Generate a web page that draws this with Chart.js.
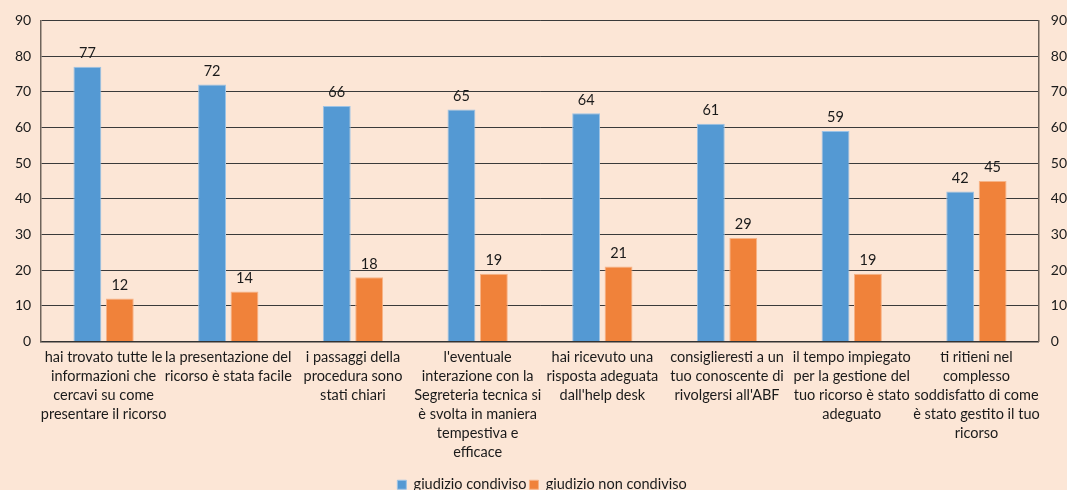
<!DOCTYPE html>
<html>
<head>
<meta charset="utf-8">
<script src="https://cdn.jsdelivr.net/npm/chart.js@4.4.0/dist/chart.umd.min.js"></script>
<style>
  html, body { margin: 0; padding: 0; background: #FCE6D6; overflow: hidden; }
  #wrap { width: 1079px; height: 502px; }
</style>
</head>
<body>
<div id="wrap"><canvas id="bar-chart"></canvas></div>
<script>
const categories = [
  ['hai trovato tutte le', 'informazioni che', 'cercavi su come', 'presentare il ricorso'],
  ['la presentazione del', 'ricorso è stata facile'],
  ['i passaggi della', 'procedura sono', 'stati chiari'],
  ["l'eventuale", 'interazione con la', 'Segreteria tecnica si', 'è svolta in maniera', 'tempestiva e', 'efficace'],
  ['hai ricevuto una', 'risposta adeguata', "dall'help desk"],
  ['consiglieresti a un', 'tuo conoscente di', "rivolgersi all'ABF"],
  ['il tempo impiegato', 'per la gestione del', 'tuo ricorso è stato', 'adeguato'],
  ['ti ritieni nel', 'complesso', 'soddisfatto di come', 'è stato gestito il tuo', 'ricorso']
];
const condiviso = [77, 72, 66, 65, 64, 61, 59, 42];
const nonCondiviso = [12, 14, 18, 19, 21, 29, 19, 45];
const yTicks = [0, 10, 20, 30, 40, 50, 60, 70, 80, 90];

const fontFamily = 'Lato, "Open Sans", sans-serif';
Chart.defaults.font.family = fontFamily;
Chart.defaults.font.size = 14;
Chart.defaults.color = '#1a1a1a';

// scrive il valore sopra ogni barra
const valueLabels = {
  id: 'valueLabels',
  afterDatasetsDraw(chart) {
    const ctx = chart.ctx;
    ctx.save();
    ctx.font = '14.5px ' + fontFamily;
    ctx.fillStyle = '#1a1a1a';
    ctx.textAlign = 'center';
    ctx.textBaseline = 'bottom';
    chart.data.datasets.forEach((ds, i) => {
      chart.getDatasetMeta(i).data.forEach((bar, j) => {
        ctx.fillText(ds.data[j], bar.x, bar.y - 6);
      });
    });
    ctx.restore();
  }
};

const data = {
  labels: categories,
  datasets: [
    {
      label: 'giudizio condiviso',
      data: condiviso,
      backgroundColor: '#5499D3',
      borderColor: '#9CC3E6',
      borderWidth: 1,
      categoryPercentage: 0.52,
      barPercentage: 0.86
    },
    {
      label: 'giudizio non condiviso',
      data: nonCondiviso,
      backgroundColor: '#F0823A',
      borderColor: '#F6B387',
      borderWidth: 1,
      categoryPercentage: 0.52,
      barPercentage: 0.86
    }
  ]
};

const axisColor = '#6f645b';

const options = {
  responsive: true,
  maintainAspectRatio: false,
  animation: false,
  layout: { padding: { left: 5, right: 0, top: 14, bottom: 0 } },
  plugins: {
    legend: {
      position: 'bottom',
      labels: {
        boxWidth: 9,
        boxHeight: 9,
        padding: 3,
        font: { size: 14.5 }
      }
    },
    tooltip: { enabled: false }
  },
  scales: {
    x: {
      grid: { display: false, drawTicks: false },
      border: { display: true, color: '#333', width: 1.5 },
      afterFit: scale => { scale.height += 6; },
      ticks: {
        autoSkip: false,
        maxRotation: 0,
        padding: 7,
        font: { size: 14.5, lineHeight: 1.3 }
      }
    },
    y: {
      min: 0,
      max: 90,
      afterBuildTicks: scale => { scale.ticks = yTicks.map(v => ({ value: v })); },
      grid: { color: '#3a3a3a', lineWidth: 1, drawTicks: false },
      border: { display: true, color: axisColor, width: 1.5 },
      ticks: { padding: 10, font: { size: 14 } }
    },
    y2: {
      position: 'right',
      min: 0,
      max: 90,
      afterBuildTicks: scale => { scale.ticks = yTicks.map(v => ({ value: v })); },
      grid: { display: false, drawTicks: false },
      border: { display: true, color: axisColor, width: 1.5 },
      ticks: { padding: 12, font: { size: 14 } }
    }
  }
};

new Chart(document.getElementById('bar-chart').getContext('2d'), {
  type: 'bar',
  data: data,
  options: options,
  plugins: [valueLabels]
});
</script>
</body>
</html>
